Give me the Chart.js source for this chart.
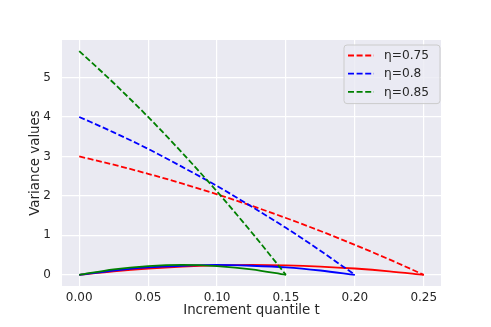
<!DOCTYPE html>
<html>
<head>
<meta charset="utf-8">
<script src="https://cdn.jsdelivr.net/npm/chart.js@4.4.1/dist/chart.umd.min.js"></script>
<style>
  html, body { margin: 0; padding: 0; background: #ffffff; }
  #wrap { width: 491px; height: 327px; }
</style>
</head>
<body>
<div id="wrap"><canvas id="c" width="491" height="327"></canvas></div>
<script>
// ---- data ----
const tValues = [0, 0.025, 0.05, 0.075, 0.1, 0.125, 0.15, 0.175, 0.2, 0.225, 0.25];
const etaLabels = ['η=0.75', 'η=0.8', 'η=0.85'];
// dashed curves (upper family)
const dashed075 = [3.00, 2.79, 2.56, 2.31, 2.04, 1.75, 1.44, 1.11, 0.76, 0.39, 0.00];
const dashed080 = [4.00, 3.61, 3.19, 2.73, 2.25, 1.73, 1.19, 0.61, 0.00];
const dashed085 = [5.67, 4.86, 4.00, 3.08, 2.11, 1.08, 0.00];
// solid curves (lower family)
const solid075 = [0.00, 0.09, 0.16, 0.21, 0.24, 0.25, 0.24, 0.21, 0.16, 0.09, 0.00];
const solid080 = [0.00, 0.11, 0.19, 0.23, 0.25, 0.23, 0.19, 0.11, 0.00];
const solid085 = [0.00, 0.14, 0.22, 0.25, 0.22, 0.14, 0.00];
// tick labels
const xTicks = [0, 0.05, 0.10, 0.15, 0.20, 0.25];
const yTicks = [0, 1, 2, 3, 4, 5];

const colors = ['red', 'blue', 'green'];
const dashedSeries = [dashed075, dashed080, dashed085];
const solidSeries = [solid075, solid080, solid085];

function pts(vals) { return vals.map((v, i) => ({ x: tValues[i], y: v })); }

const datasets = [];
for (let k = 0; k < 3; k++) {
  datasets.push({
    label: etaLabels[k],
    data: pts(dashedSeries[k]),
    borderColor: colors[k],
    backgroundColor: colors[k],
    borderWidth: 1.8,
    borderDash: [6, 2.6],
    pointRadius: 0,
    cubicInterpolationMode: 'monotone',
    fill: false
  });
  datasets.push({
    label: '',
    data: pts(solidSeries[k]),
    borderColor: colors[k],
    backgroundColor: colors[k],
    borderWidth: 1.8,
    pointRadius: 0,
    cubicInterpolationMode: 'monotone',
    fill: false
  });
}
datasets.forEach((d, i) => { d.order = datasets.length - i; });

const FONT = "'DejaVu Sans', sans-serif";
const TXT = '#262626';

const bgPlugin = {
  id: 'plotBg',
  beforeDraw(chart) {
    const { ctx, chartArea: a } = chart;
    ctx.save();
    ctx.fillStyle = '#EAEAF2';
    ctx.fillRect(a.left, a.top, a.right - a.left, a.bottom - a.top);
    ctx.restore();
  }
};

const legendPlugin = {
  id: 'insideLegend',
  afterDatasetsDraw(chart) {
    const { ctx, chartArea: a } = chart;
    const items = chart.data.datasets.filter(d => d.label);
    const w = 96, rowH = 18.2, h = items.length * rowH + 4;
    const x = a.right - w - 1, y = a.top + 5;
    ctx.save();
    ctx.beginPath();
    const r = 3;
    ctx.moveTo(x + r, y);
    ctx.arcTo(x + w, y, x + w, y + h, r);
    ctx.arcTo(x + w, y + h, x, y + h, r);
    ctx.arcTo(x, y + h, x, y, r);
    ctx.arcTo(x, y, x + w, y, r);
    ctx.closePath();
    ctx.fillStyle = 'rgba(234,234,242,0.8)';
    ctx.fill();
    ctx.lineWidth = 1;
    ctx.strokeStyle = '#cccccc';
    ctx.stroke();
    items.forEach((d, i) => {
      const cy = y + 10.5 + i * rowH;
      ctx.beginPath();
      ctx.setLineDash(d.borderDash || []);
      ctx.strokeStyle = d.borderColor;
      ctx.lineWidth = d.borderWidth;
      ctx.moveTo(x + 4, cy);
      ctx.lineTo(x + 30, cy);
      ctx.stroke();
      ctx.setLineDash([]);
      ctx.fillStyle = TXT;
      ctx.font = '12.2px ' + FONT;
      ctx.textBaseline = 'middle';
      ctx.textAlign = 'left';
      ctx.fillText(d.label, x + 40, cy + 0.5);
    });
    ctx.restore();
  }
};

new Chart(document.getElementById('c'), {
  type: 'line',
  data: { datasets },
  plugins: [bgPlugin, legendPlugin],
  options: {
    responsive: false,
    animation: false,
    devicePixelRatio: 1,
    layout: { padding: { left: 0, right: 50, top: 40, bottom: 0 } },
    plugins: { legend: { display: false }, tooltip: { enabled: false } },
    scales: {
      x: {
        type: 'linear',
        min: -0.0125,
        max: 0.2625,
        border: { display: false },
        grid: { color: '#ffffff', lineWidth: 1.2, drawTicks: false },
        ticks: {
          color: TXT,
          font: { family: FONT, size: 12 },
          padding: 5,
          maxRotation: 0,
          callback: v => v.toFixed(2)
        },
        afterBuildTicks: s => { s.ticks = xTicks.map(v => ({ value: v })); },
        afterFit: s => { s.height = 41; },
        title: {
          display: true,
          text: 'Increment quantile t',
          color: TXT,
          font: { family: FONT, size: 13.4 },
          padding: { top: 0, bottom: 8 }
        }
      },
      y: {
        type: 'linear',
        min: -0.283,
        max: 5.95,
        border: { display: false },
        grid: { color: '#ffffff', lineWidth: 1.2, drawTicks: false },
        ticks: {
          color: TXT,
          font: { family: FONT, size: 12 },
          padding: 11,
          callback: v => String(v)
        },
        afterBuildTicks: s => { s.ticks = yTicks.map(v => ({ value: v })); },
        afterFit: s => { s.width = 62; },
        title: {
          display: true,
          text: 'Variance values',
          color: TXT,
          font: { family: FONT, size: 13.4 },
          padding: { top: 27, bottom: 0 }
        }
      }
    }
  }
});
</script>
</body>
</html>
